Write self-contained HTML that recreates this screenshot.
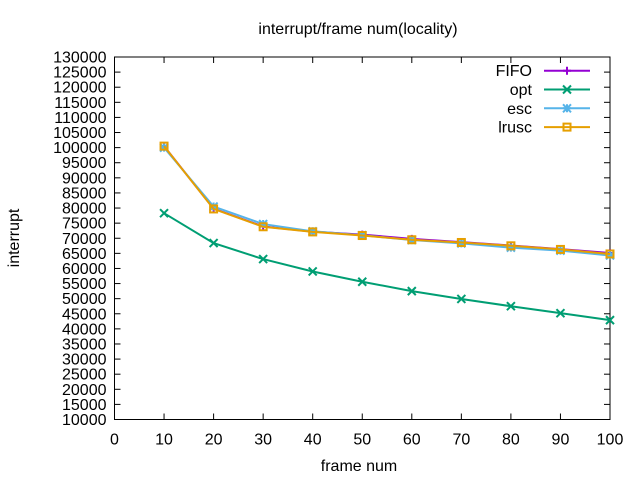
<!DOCTYPE html>
<html><head><meta charset="utf-8"><style>
body{margin:0;background:#fff}
svg text{font-family:"Liberation Sans",sans-serif;font-size:16px;fill:#000}
</style></head><body>
<svg id="chart" width="640" height="480" xmlns="http://www.w3.org/2000/svg"></svg>
<script>
const categories=[10,20,30,40,50,60,70,80,90,100];
const fifoValues=[100500,79800,73900,72200,71200,69800,68700,67600,66400,65100];
const optValues=[78300,68400,63100,59000,55600,52500,49900,47500,45200,42900];
const escValues=[100000,80500,74700,72300,71000,69400,68300,66900,65900,64300];
const lruscValues=[100500,79700,73800,72100,70900,69500,68600,67500,66300,64800];
const yTicks=[10000,15000,20000,25000,30000,35000,40000,45000,50000,55000,60000,65000,70000,75000,80000,85000,90000,95000,100000,105000,110000,115000,120000,125000,130000];
const xTicks=[0,10,20,30,40,50,60,70,80,90,100];

const L=114.5,R=610,T=57,B=419.5;
const xs=v=>L+(v-0)/100*(R-L);
const ys=v=>B-(v-10000)/120000*(B-T);
const svg=document.getElementById('chart');
const NS='http://www.w3.org/2000/svg';
function mk(tag,attrs,parent){const e=document.createElementNS(NS,tag);for(const k in attrs)e.setAttribute(k,attrs[k]);(parent||svg).appendChild(e);return e;}

const axes=mk('g',{});


const frame=mk('rect',{x:L,y:T,width:R-L,height:B-T,fill:'none',stroke:'#000','stroke-width':1},axes);


yTicks.forEach(v=>{
  const y=ys(v);
  mk('line',{x1:L,x2:L+6,y1:y,y2:y,stroke:'#000'},axes);
  mk('line',{x1:R,x2:R-6,y1:y,y2:y,stroke:'#000'},axes);
  const t=mk('text',{x:L-8,y:y+5.5,'text-anchor':'end'},axes);t.textContent=v;
  
  
});
xTicks.forEach(v=>{
  const x=xs(v);
  mk('line',{x1:x,x2:x,y1:B,y2:B-6,stroke:'#000'},axes);
  mk('line',{x1:x,x2:x,y1:T,y2:T+6,stroke:'#000'},axes);
  const t=mk('text',{x:x,y:B+25,'text-anchor':'middle'},axes);t.textContent=v;
  
  
});
const title=mk('text',{x:358,y:34,'text-anchor':'middle','font-size':'15'});title.textContent='interrupt/frame num(locality)';


const xt=mk('text',{x:359,y:471,'text-anchor':'middle','font-size':'15'});xt.textContent='frame num';


const yt=mk('text',{x:19,y:238,'text-anchor':'middle','font-size':'15',transform:'rotate(-90 19 238)'});yt.textContent='interrupt';



function marker(g,type,x,y,c){
  const s=4,a={stroke:c,'stroke-width':2,fill:'none'};
  if(type==='plus'||type==='star'){mk('path',Object.assign({d:`M${x-s} ${y}H${x+s}M${x} ${y-s}V${y+s}`},a),g);}
  if(type==='x'||type==='star'){mk('path',Object.assign({d:`M${x-s} ${y-s}L${x+s} ${y+s}M${x-s} ${y+s}L${x+s} ${y-s}`},a),g);}
  if(type==='square'){mk('rect',Object.assign({x:x-3.5,y:y-3.5,width:7,height:7},a),g);}
}
const series=[
 {name:'FIFO',vals:fifoValues,c:'#9400d3',m:'plus'},
 {name:'opt',vals:optValues,c:'#009e73',m:'x'},
 {name:'esc',vals:escValues,c:'#56b4e9',m:'star'},
 {name:'lrusc',vals:lruscValues,c:'#e69f00',m:'square'}
];
series.forEach((s,i)=>{
  const g=mk('g',{});
  
  
  const pts=s.vals.map((v,j)=>xs(categories[j])+','+ys(v)).join(' ');
  mk('polyline',{points:pts,fill:'none',stroke:s.c,'stroke-width':2},g);
  s.vals.forEach((v,j)=>marker(g,s.m,xs(categories[j]),ys(v),s.c));
  const ly=70.7+i*18.8;
  const lg=mk('g',{});
  
  
  const t=mk('text',{x:532,y:ly+5.5,'text-anchor':'end'},lg);t.textContent=s.name;
  mk('line',{x1:544,x2:590,y1:ly,y2:ly,stroke:s.c,'stroke-width':2},lg);
  marker(lg,s.m,567,ly,s.c);
});
</script>
</body></html>
